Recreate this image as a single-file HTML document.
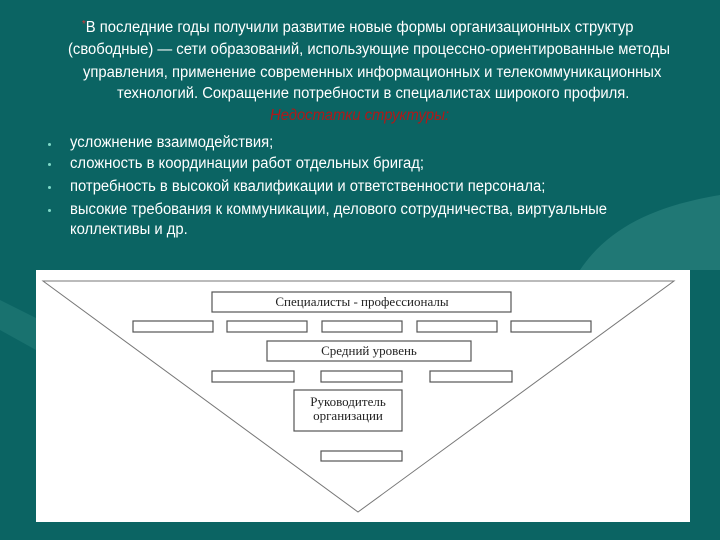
<!DOCTYPE html>
<html><head><meta charset="utf-8"><style>
body{margin:0;width:720px;height:540px;overflow:hidden;background:#0b6463;position:relative;font-family:"Liberation Sans",sans-serif;}
.t{position:absolute;color:#fff;font-size:15.5px;white-space:nowrap;transform:scaleX(0.955);transform-origin:0 0;}
.dot{position:absolute;left:48px;width:3px;height:3px;border-radius:2px;background:#7fd9c8}
</style></head><body>
<svg width="720" height="540" style="position:absolute;left:0;top:0">
<path d="M580 270 C610 225 660 205 720 195 L720 270 Z" fill="#2f8682" opacity="0.6"/>
<path d="M0 300 L40 320 L36 350 L0 330 Z" fill="#2f8682" opacity="0.4"/>
</svg>
<div class="t" style="top:19px;left:82px"><span style="color:#d33;font-size:10px;vertical-align:top">*</span>В последние годы получили развитие новые формы организационных структур</div>
<div class="t" style="top:41px;left:68px">(свободные) — сети образований, использующие процессно-ориентированные методы</div>
<div class="t" style="top:64px;left:83px">управления, применение современных информационных и телекоммуникационных</div>
<div class="t" style="top:85px;left:117px">технологий. Сокращение потребности в специалистах широкого профиля.</div>
<div class="t" style="top:107px;left:270px;color:#b01818;font-style:italic">Недостатки структуры:</div>
<div class="dot" style="top:143px"></div><div class="t" style="left:70px;top:134px">усложнение взаимодействия;</div>
<div class="dot" style="top:163px"></div><div class="t" style="left:70px;top:155px">сложность в координации работ отдельных бригад;</div>
<div class="dot" style="top:186px"></div><div class="t" style="left:70px;top:178px">потребность в высокой квалификации и ответственности персонала;</div>
<div class="dot" style="top:209px"></div><div class="t" style="left:70px;top:201px">высокие требования к коммуникации, делового сотрудничества, виртуальные</div>
<div class="t" style="left:70px;top:221px">коллективы и др.</div>
<svg width="720" height="540" style="position:absolute;left:0;top:0" font-family="Liberation Serif,serif" font-size="13">
<rect x="36" y="270" width="654" height="252" fill="#fff"/>
<polygon points="43,281 674,281 358,512" fill="none" stroke="#777" stroke-width="1"/>
<g fill="#fff" stroke="#555" stroke-width="1.2">
<rect x="212" y="292" width="299" height="20"/>
<rect x="133" y="321" width="80" height="11"/><rect x="227" y="321" width="80" height="11"/><rect x="322" y="321" width="80" height="11"/><rect x="417" y="321" width="80" height="11"/><rect x="511" y="321" width="80" height="11"/>
<rect x="267" y="341" width="204" height="20"/>
<rect x="212" y="371" width="82" height="11"/><rect x="321" y="371" width="81" height="11"/><rect x="430" y="371" width="82" height="11"/>
<rect x="294" y="390" width="108" height="41"/>
<rect x="321" y="451" width="81" height="10"/>
</g>
<g fill="#222" text-anchor="middle">
<text x="362" y="306">Специалисты - профессионалы</text>
<text x="369" y="355">Средний уровень</text>
<text x="348" y="406">Руководитель</text>
<text x="348" y="420">организации</text>
</g>
</svg>
</body></html>
